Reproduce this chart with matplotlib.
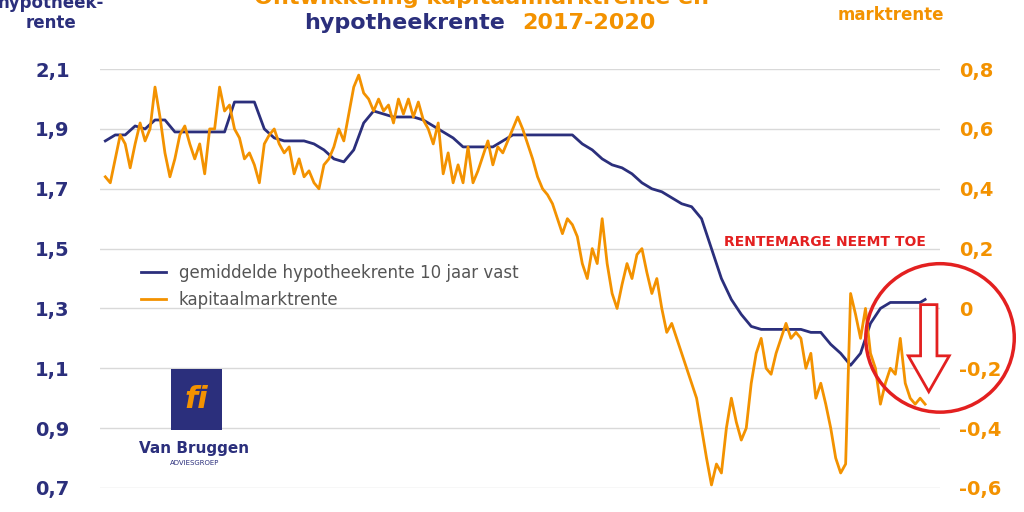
import matplotlib
matplotlib.use("Agg")
import matplotlib.pyplot as plt
from matplotlib.patches import Ellipse, FancyArrow, Rectangle

blue_x = [100,110,120,130,140,150,160,170,180,190,200,210,220,230,240,250,260,270,280,290,300,310,320,330,340,350,360,370,380,390,400,410,420,430,440,450,460,470,480,490,500,510,520,530,540,550,560,570,580,590,600,610,620,630,640,650,660,670,680,690,700,710,720,730,740,750,760,770,780,790,800,810,820,830,840,850,860,870,880,890,900,910,920,925]
blue_y = [1.86,1.88,1.88,1.91,1.90,1.93,1.93,1.89,1.89,1.89,1.89,1.89,1.89,1.99,1.99,1.99,1.90,1.87,1.86,1.86,1.86,1.85,1.83,1.80,1.79,1.83,1.92,1.96,1.95,1.94,1.94,1.94,1.93,1.91,1.89,1.87,1.84,1.84,1.84,1.84,1.86,1.88,1.88,1.88,1.88,1.88,1.88,1.88,1.85,1.83,1.80,1.78,1.77,1.75,1.72,1.70,1.69,1.67,1.65,1.64,1.60,1.50,1.40,1.33,1.28,1.24,1.23,1.23,1.23,1.23,1.23,1.22,1.22,1.18,1.15,1.11,1.15,1.25,1.30,1.32,1.32,1.32,1.32,1.33]
orange_y = [0.44,0.42,0.50,0.58,0.55,0.47,0.55,0.62,0.56,0.60,0.74,0.64,0.52,0.44,0.50,0.58,0.61,0.55,0.50,0.55,0.45,0.60,0.60,0.74,0.66,0.68,0.60,0.57,0.50,0.52,0.48,0.42,0.55,0.58,0.60,0.55,0.52,0.54,0.45,0.50,0.44,0.46,0.42,0.40,0.48,0.50,0.54,0.60,0.56,0.65,0.74,0.78,0.72,0.70,0.66,0.70,0.66,0.68,0.62,0.70,0.65,0.70,0.64,0.69,0.63,0.60,0.55,0.62,0.45,0.52,0.42,0.48,0.42,0.54,0.42,0.46,0.51,0.56,0.48,0.54,0.52,0.56,0.60,0.64,0.60,0.55,0.50,0.44,0.40,0.38,0.35,0.30,0.25,0.30,0.28,0.24,0.15,0.10,0.20,0.15,0.30,0.15,0.05,0.00,0.08,0.15,0.10,0.18,0.20,0.12,0.05,0.10,0.00,-0.08,-0.05,-0.10,-0.15,-0.20,-0.25,-0.30,-0.40,-0.50,-0.59,-0.52,-0.55,-0.40,-0.30,-0.38,-0.44,-0.40,-0.25,-0.15,-0.10,-0.20,-0.22,-0.15,-0.10,-0.05,-0.10,-0.08,-0.10,-0.20,-0.15,-0.30,-0.25,-0.32,-0.40,-0.50,-0.55,-0.52,0.05,-0.02,-0.10,0.00,-0.15,-0.20,-0.32,-0.25,-0.20,-0.22,-0.10,-0.25,-0.30,-0.32,-0.30,-0.32]
orange_x = list(range(100, 100 + 5 * len(orange_y), 5))

left_ticks = [0.7, 0.9, 1.1, 1.3, 1.5, 1.7, 1.9, 2.1]
right_ticks = [-0.6, -0.4, -0.2, 0, 0.2, 0.4, 0.6, 0.8]
NAVY = "#2b2f7c"
ORANGE = "#f39200"

fig = plt.figure(figsize=(10.24, 5.12), dpi=100)
ax = fig.add_axes([0.098, 0.047, 0.82, 0.818])
ax.plot(blue_x, blue_y, color=NAVY, lw=2, label="gemiddelde hypotheekrente 10 jaar vast")
ax2 = ax.twinx()
ax2.plot(orange_x, orange_y, color=ORANGE, lw=2)
ax.plot([], [], color=ORANGE, lw=2, label="kapitaalmarktrente")
ax.set_xlim(95, 940)
ax.set_ylim(0.7, 2.1)
ax2.set_ylim(-0.6, 0.8)
ax.set_yticks(left_ticks)
ax.set_yticklabels([f"{t:.1f}".replace(".", ",") for t in left_ticks])
ax2.set_yticks(right_ticks)
ax2.set_yticklabels(["0" if t == 0 else f"{t:.1f}".replace(".", ",") for t in right_ticks])
ax.set_xticks([])
for a in (ax, ax2):
    for s in a.spines.values():
        s.set_visible(False)
    a.tick_params(length=0, labelsize=14)
ax.tick_params(axis="y", colors=NAVY, pad=22)
ax2.tick_params(axis="y", colors=ORANGE, pad=14)
for t in ax.get_yticklabels():
    t.set_fontweight("bold"); t.set_color(NAVY)
for t in ax2.get_yticklabels():
    t.set_fontweight("bold"); t.set_color(ORANGE)
ax.grid(axis="y", color="#d9d9d9", lw=1)
ax.legend(loc="upper left", bbox_to_anchor=(0.03, 0.57), frameon=False, fontsize=12,
          labelcolor="#555555", handlelength=1.5)

fig.text(0.47, 1.003, "Ontwikkeling kapitaalmarktrente en", ha="center", va="center",
         fontsize=16, fontweight="bold", color=ORANGE)
fig.text(0.395, 0.955, "hypotheekrente", ha="center", va="center", fontsize=16, fontweight="bold", color=NAVY)
fig.text(0.575, 0.955, "2017-2020", ha="center", va="center", fontsize=16, fontweight="bold", color=ORANGE)
fig.text(0.05, 0.995, "hypotheek-", ha="center", va="center", fontsize=12, fontweight="bold", color=NAVY)
fig.text(0.05, 0.955, "rente", ha="center", va="center", fontsize=12, fontweight="bold", color=NAVY)
fig.text(0.87, 0.97, "marktrente", ha="center", va="center", fontsize=12, fontweight="bold", color=ORANGE)
fig.text(0.806, 0.528, "RENTEMARGE NEEMT TOE", ha="center", va="center", fontsize=10, fontweight="bold", color="#e32020")
fig.add_artist(Ellipse((0.918, 0.34), 0.145, 0.29, transform=fig.transFigure, fill=False, ec="#e32020", lw=2.5))
fig.add_artist(FancyArrow(0.907, 0.405, 0, -0.17, width=0.016, head_width=0.04, head_length=0.07,
                          transform=fig.transFigure, fc="white", ec="#e32020", lw=2, length_includes_head=True))
fig.add_artist(Rectangle((0.167, 0.16), 0.05, 0.12, transform=fig.transFigure, fc=NAVY, ec="none"))
fig.text(0.192, 0.22, "fi", ha="center", va="center", fontsize=22, fontstyle="italic", fontweight="bold", color=ORANGE)
fig.text(0.19, 0.125, "Van Bruggen", ha="center", va="center", fontsize=11, fontweight="bold", color=NAVY)
fig.text(0.19, 0.095, "ADVIESGROEP", ha="center", va="center", fontsize=5, color=NAVY)
fig.savefig("out.png")
